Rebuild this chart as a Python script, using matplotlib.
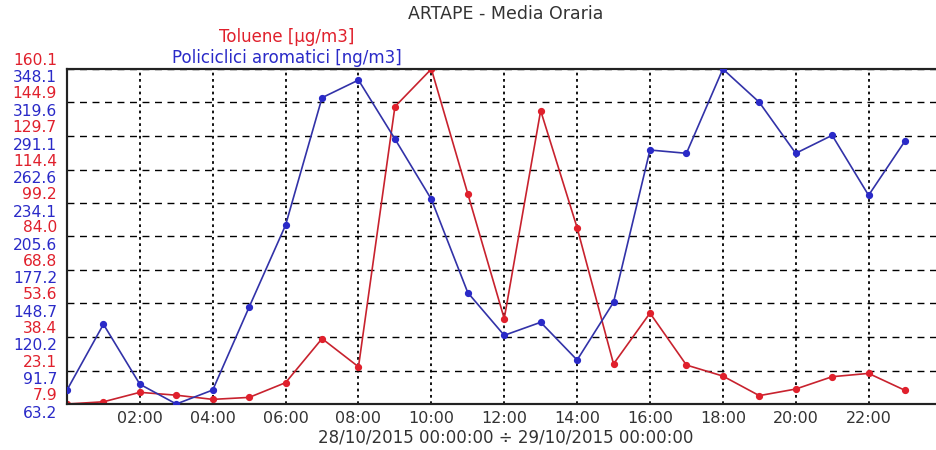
import matplotlib
matplotlib.use("Agg")
import matplotlib.pyplot as plt
import matplotlib.transforms as mtransforms

hours = list(range(24))
hour_labels = ["02:00", "04:00", "06:00", "08:00", "10:00", "12:00",
               "14:00", "16:00", "18:00", "20:00", "22:00"]
hour_ticks = list(range(2, 24, 2))

toluene = [7.9, 8.9, 13.2, 11.9, 10.0, 10.9, 17.6, 37.6, 24.8, 143.0, 160.1, 103.4,
           46.7, 141.2, 88.0, 26.1, 49.2, 25.6, 20.6, 11.7, 14.7, 20.3, 21.8, 14.1]
ipa = [75.1, 131.0, 80.0, 63.2, 75.1, 145.7, 215.4, 323.7, 338.7, 288.6, 237.3, 157.9,
       121.6, 132.7, 100.6, 149.7, 279.2, 276.4, 348.1, 319.8, 276.4, 291.7, 240.7, 286.9]

tol_ticks = [7.9, 23.1, 38.4, 53.6, 68.8, 84.0, 99.2, 114.4, 129.7, 144.9, 160.1]
ipa_ticks = [63.2, 91.7, 120.2, 148.7, 177.2, 205.6, 234.1, 262.6, 291.1, 319.6, 348.1]

RED = "#e0202c"
BLUE = "#2a2ac8"
plt.rcParams['font.family'] = ['DejaVu Sans']

fig = plt.figure(figsize=(9.36, 4.5), dpi=100)
ax = fig.add_axes([67/936, 46/450, 1 - 67/936, 335/450])
ax2 = ax.twinx()

ax.plot(hours, toluene, color="#c8222e", lw=1.2, marker="o", ms=4.2,
        mfc=RED, mec=RED, zorder=3)
ax2.plot(hours, ipa, color="#3232a8", lw=1.2, marker="o", ms=4.2,
         mfc=BLUE, mec=BLUE, zorder=3)

ax.set_xlim(0, 23.85)
ax.set_ylim(tol_ticks[0], tol_ticks[-1])
ax2.set_ylim(ipa_ticks[0], ipa_ticks[-1])

ax.set_xticks(hour_ticks)
ax.set_xticklabels(hour_labels, fontsize=11.5, color="#333333")
ax.set_yticks(tol_ticks)
ax.set_yticklabels([])
ax2.set_yticks([])
ax.tick_params(axis="both", length=0)
ax.tick_params(axis="x", pad=5)

ax.grid(axis="y", color="black", linestyle=(0, (5, 4)), lw=1)
ax.grid(axis="x", color="black", linestyle=(0, (1.5, 2)), lw=1.3)
ax.set_axisbelow(True)

for a in (ax, ax2):
    a.spines["right"].set_visible(False)
    for s in ("left", "top", "bottom"):
        a.spines[s].set_linewidth(1.5)
        a.spines[s].set_color("#222222")

# stacked tick labels: toluene above each grid line, IPA below
up = ax.get_yaxis_transform() + mtransforms.ScaledTranslation(-0.10, 0.085, fig.dpi_scale_trans)
down = ax2.get_yaxis_transform() + mtransforms.ScaledTranslation(-0.10, -0.09, fig.dpi_scale_trans)
for v in tol_ticks:
    ax.text(0, v, f"{v:.1f}", transform=up, ha="right", va="center",
            fontsize=11.2, color=RED, clip_on=False)
for v in ipa_ticks:
    ax2.text(0, v, f"{v:.1f}", transform=down, ha="right", va="center",
             fontsize=11.2, color=BLUE, clip_on=False)

fig.text(506/936, 1 - 14/450, "ARTAPE - Media Oraria", ha="center", va="center",
         fontsize=12.5, color="#333333")
fig.text(287/936, 1 - 37/450, "Toluene [µg/m3]", ha="center", va="center",
         fontsize=12, color=RED)
fig.text(287/936, 1 - 58/450, "Policiclici aromatici [ng/m3]", ha="center", va="center",
         fontsize=12, color=BLUE)
fig.text(506/936, 1 - 438/450, "28/10/2015 00:00:00 ÷ 29/10/2015 00:00:00",
         ha="center", va="center", fontsize=12, color="#333333")

fig.savefig("out.png", dpi=100)
